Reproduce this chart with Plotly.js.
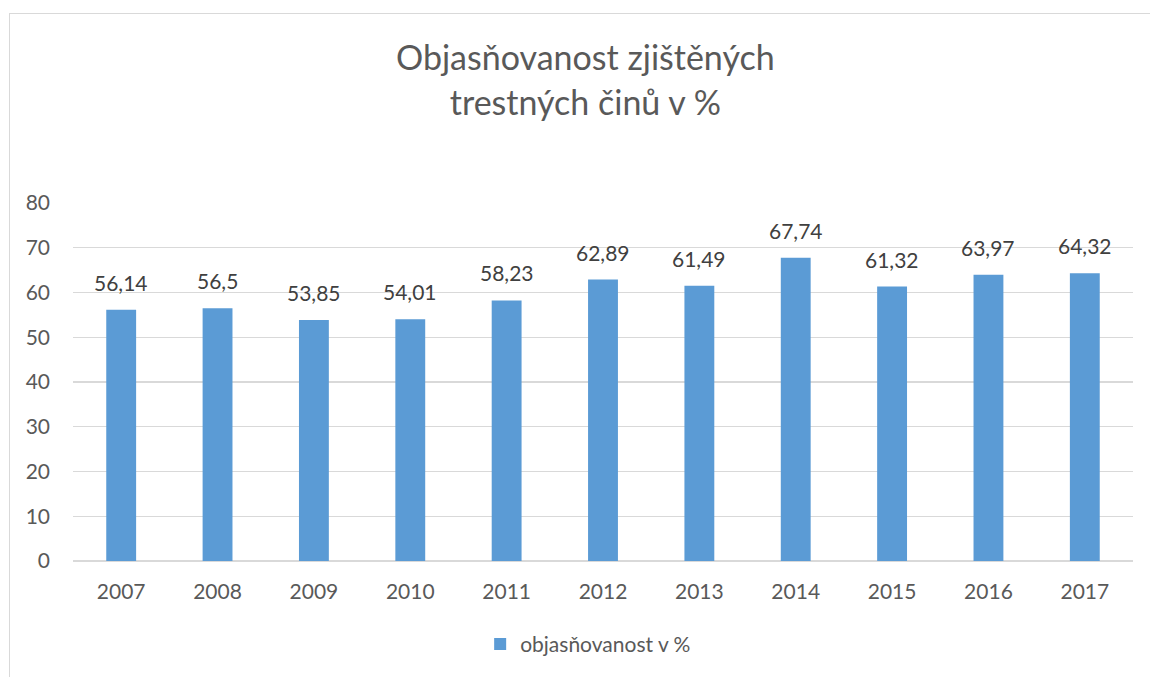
<!DOCTYPE html>
<html>
<head>
<meta charset="utf-8">
<script src="https://cdn.plot.ly/plotly-3.0.1.min.js"></script>
<style>
html,body{margin:0;padding:0;background:#fff;}
#frame{position:absolute;left:9px;top:13px;width:1200px;height:700px;border-left:1px solid #d9d9d9;border-top:1px solid #d9d9d9;}
#chart{position:absolute;left:0;top:0;width:1150px;height:677px;}
</style>
</head>
<body>
<div id="frame"></div>
<div id="chart"></div>
<script>
const years = ['2007','2008','2009','2010','2011','2012','2013','2014','2015','2016','2017'];
const values = [56.14, 56.5, 53.85, 54.01, 58.23, 62.89, 61.49, 67.74, 61.32, 63.97, 64.32];
const seriesName = 'objasňovanost v %';
const titleText = 'Objasňovanost zjištěných<br>trestných činů v %';
const yTicks = [0,10,20,30,40,50,60,70,80];

const font = 'Lato, Calibri, "Open Sans", sans-serif';
const fmt = v => String(v).replace('.', ',');

const annotations = years.map((yr, i) => ({
  x: i, y: values[i], xref: 'x', yref: 'y',
  text: fmt(values[i]),
  showarrow: false,
  yanchor: 'bottom',
  yshift: 13,
  font: {family: font, size: 21, color: '#404040'}
}));

Plotly.newPlot('chart', [{
  type: 'bar',
  x: years,
  y: values,
  name: seriesName,
  marker: {color: '#5b9bd5'},
  hoverinfo: 'x+y'
}], {
  width: 1150,
  height: 677,
  separators: ', ',
  paper_bgcolor: 'rgba(0,0,0,0)',
  plot_bgcolor: 'rgba(0,0,0,0)',
  margin: {l: 73, r: 17, t: 203, b: 114},
  bargap: 0.69,
  font: {family: font, color: '#595959'},
  title: {
    text: titleText,
    font: {family: font, size: 34, color: '#595959'},
    x: 0.509, xanchor: 'center',
    y: 0.896, yanchor: 'middle'
  },
  annotations: annotations,
  xaxis: {
    type: 'category',
    categoryarray: years,
    range: [-0.5, years.length - 0.5],
    autorange: false,
    tickfont: {family: font, size: 21, color: '#595959'},
    showgrid: false,
    showline: false,
    zeroline: false,
    ticks: '',
    ticklabelstandoff: 16
  },
  yaxis: {
    range: [0, 80],
    tickvals: yTicks,
    tickfont: {family: font, size: 21, color: '#595959'},
    gridcolor: '#d9d9d9',
    gridwidth: 1.3,
    zeroline: true,
    zerolinecolor: '#d9d9d9',
    zerolinewidth: 1.3,
    showline: false,
    ticks: '',
    ticklabelstandoff: 22
  },
  showlegend: true,
  legend: {
    orientation: 'h',
    x: 0.486, xanchor: 'center',
    y: -0.233, yanchor: 'middle',
    font: {family: font, size: 21, color: '#595959'},
    itemwidth: 30
  }
}, {displayModeBar: false, staticPlot: true});
</script>
</body>
</html>
